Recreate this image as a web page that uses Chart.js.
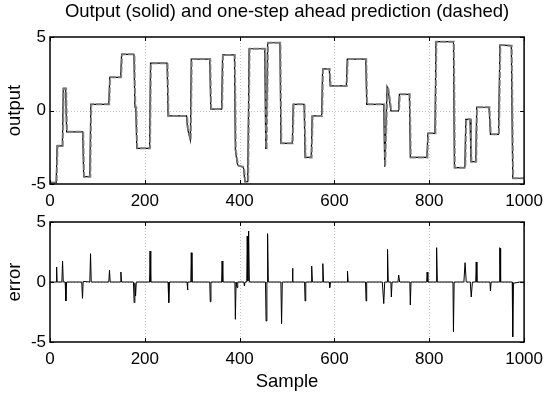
<!DOCTYPE html>
<html>
<head>
<meta charset="utf-8">
<script src="https://cdn.jsdelivr.net/npm/chart.js@4.4.0/dist/chart.umd.min.js"></script>
<style>
  html, body { margin: 0; padding: 0; background: #fff; }
  #wrap { position: relative; width: 550px; height: 394px; overflow: hidden; }
  canvas { position: absolute; left: 0; }
  #cOutput { top: 0; }
  #cError { top: 200px; }
</style>
</head>
<body>
<div id="wrap">
  <canvas id="cOutput" width="550" height="215"></canvas>
  <canvas id="cError" width="550" height="194"></canvas>
</div>
<script>
// Output signal corners (sample, value)
let outX = [0, 13, 15, 26, 28, 33, 35, 69, 71, 84, 86, 124, 126, 149, 151, 177, 179, 181, 183, 210,
  212, 247, 249, 288, 290, 296, 298, 337, 339, 362, 364, 389, 391, 395, 397, 408, 411, 417, 420, 453,
  455, 456, 459, 485, 487, 511, 513, 536, 538, 551, 553, 573, 575, 589, 591, 625, 627, 666, 668, 704,
  706, 711, 713, 719, 735, 737, 758, 760, 795, 797, 812, 814, 851, 853, 875, 877, 886, 888, 898, 900,
  926, 929, 946, 949, 973, 976, 1000];
let outY = [-4.9, -4.9, -2.4, -2.4, 1.5, 1.5, -1.45, -1.45, -4.5, -4.5, 0.42, 0.42, 2.26, 2.26, 3.82, 3.82, 0.22, 0.22, -2.57, -2.57,
  3.22, 3.22, -0.37, -0.37, -1.2, -2.0, 3.5, 3.5, 0.1, 0.1, 3.78, 3.78, -2.7, -3.6, -3.75, -3.85, -4.84, -4.84, 4.2, 4.2,
  -2.57, -2.57, 4.61, 4.61, -2.23, -2.23, 0.42, 0.42, -3.19, -3.19, -0.37, -0.37, 2.83, 2.83, 1.67, 1.67, 3.5, 3.5, 0.42, 0.42,
  -3.82, 1.62, 1.45, -0.03, -0.03, 1.1, 1.1, -3.19, -3.19, -1.55, -1.55, 4.68, 4.68, -3.89, -3.89, -0.6, -0.6, -3.48, -3.48, 0.22,
  0.22, -1.62, -1.62, 4.45, 4.41, -4.61, -4.61];

// One-step ahead prediction corners (sample, value)
let predX = [0, 14, 16, 27, 29, 34, 36, 70, 72, 85, 87, 125, 127, 150, 152, 178, 180, 182, 184, 211,
  213, 248, 250, 289, 291, 297, 299, 338, 340, 363, 365, 390, 392, 396, 398, 409, 412, 418, 421, 454,
  456, 457, 460, 486, 488, 512, 514, 537, 539, 552, 554, 574, 576, 590, 592, 626, 628, 667, 669, 705,
  707, 712, 714, 720, 736, 738, 759, 761, 796, 798, 813, 815, 852, 854, 876, 878, 887, 889, 899, 901,
  927, 930, 947, 950, 974, 977, 1000];
let predY = [-4.9, -4.9, -2.4, -2.4, 1.5, 1.5, -1.45, -1.45, -4.5, -4.5, 0.42, 0.42, 2.26, 2.26, 3.82, 3.82, 0.22, 0.22, -2.57, -2.57,
  3.22, 3.22, -0.37, -0.37, -1.2, -2.0, 3.5, 3.5, 0.1, 0.1, 3.78, 3.78, -2.7, -3.6, -3.75, -3.85, -4.84, -4.84, 4.2, 4.2,
  -2.57, -2.57, 4.61, 4.61, -2.23, -2.23, 0.42, 0.42, -3.19, -3.19, -0.37, -0.37, 2.83, 2.83, 1.67, 1.67, 3.5, 3.5, 0.42, 0.42,
  -3.82, 1.62, 1.45, -0.03, -0.03, 1.1, 1.1, -3.19, -3.19, -1.55, -1.55, 4.68, 4.68, -3.89, -3.89, -0.6, -0.6, -3.48, -3.48, 0.22,
  0.22, -1.62, -1.62, 4.45, 4.41, -4.61, -4.61];

// Prediction error (sample, value)
let errX = [0, 13, 14, 15, 25, 26.5, 28, 32, 33.5, 35, 67, 68.5, 70, 84, 85.5, 87, 124, 125.5, 127, 148,
  149.5, 151, 176, 177.5, 179, 180.5, 182, 210, 211, 212.5, 249, 250.5, 252, 289, 290, 291, 297, 298, 299.5, 337,
  338, 339.5, 362, 363, 364.5, 390, 391, 392.5, 394.5, 396, 409, 410, 411.5, 415, 416, 417.5, 419, 420.5, 454.5, 455.8, 457.5,
  458, 459, 460.5, 487, 488.5, 490, 510.5, 511.5, 512.5, 537, 538, 539.5, 551, 552, 553.5, 574.5, 575.5, 577, 589, 590,
  591.5, 626.5, 627.5, 629, 665.5, 666.7, 668, 701, 704, 706, 711, 712, 713.5, 719, 720, 721.5, 734, 735.5, 737.5, 759,
  760, 761.5, 794.5, 795.5, 797, 814.5, 815.5, 817, 850, 851, 852.5, 873, 875.5, 878, 886.5, 888.5, 891, 898, 899, 900.5,
  928, 929, 930.5, 947.5, 948.5, 949.5, 950.5, 975, 976, 977.5, 985, 990, 1000];
let errY = [0, 0, 1.25, 0, 0, 1.75, 0, 0, -1.58, 0, 0, -1.36, 0.05, 0, 2.36, 0, 0, 0.97, 0, 0,
  0.83, 0, 0, -1.72, -0.1, -1.17, 0, 0, 2.58, 0, 0, -1.72, 0, 0, -0.67, 0, 0, 2.44, 0, 0,
  -1.64, 0, 0, 1.75, 0, 0, -3.11, 0, -0.47, 0, 0, -0.33, 0, 0, 3.83, 0.1, 4.25, 0, 0, -3.25, 0,
  0, 4.03, 0, 0, -3.47, 0, 0, 1.14, 0, 0, -1.58, 0, 0, 1.33, 0, 0, 1.53, 0, 0, -0.47,
  0, 0, 0.92, 0, 0, -1.58, 0, 0, -1.8, 0, 0, 2.72, 0, 0, -1.25, 0, 0, 0.58, 0, 0,
  -1.92, 0, 0, 0.83, 0, 0, 2.86, 0, 0, -4.14, 0, 0, 1.61, 0, 0, -1.25, 0, 0, 1.67, 0,
  0, -0.75, 0, 0, 2.86, 2.8, 0, 0, -4.58, -0.1, -0.05, 0, 0];

let xTicks = [0, 200, 400, 600, 800, 1000];
let yTicks = [-5, 0, 5];

const FONT = "'Liberation Sans', Arial, sans-serif";
Chart.defaults.font.family = FONT;
Chart.defaults.color = '#000';

function toPoints(xs, ys) {
  return xs.map((x, i) => ({ x: x, y: ys[i] }));
}

/*
    MATLAB style axes: dotted inner grid, black box, inward ticks on all four sides
*/
const matlabAxes = {
  id: 'matlabAxes',
  beforeDatasetsDraw(chart) {
    let ctx = chart.ctx, a = chart.chartArea, xs = chart.scales.x, ys = chart.scales.y;
    ctx.save();
    ctx.strokeStyle = '#c2c2c2';
    ctx.lineWidth = 1;
    ctx.setLineDash([1, 2]);
    ctx.beginPath();
    xTicks.slice(1, -1).forEach(v => {
      let px = Math.round(xs.getPixelForValue(v)) + 0.5;
      ctx.moveTo(px, a.top);
      ctx.lineTo(px, a.bottom);
    });
    yTicks.slice(1, -1).forEach(v => {
      let py = Math.round(ys.getPixelForValue(v)) + 0.5;
      ctx.moveTo(a.left, py);
      ctx.lineTo(a.right, py);
    });
    ctx.stroke();
    ctx.restore();
  },
  afterDatasetsDraw(chart) {
    let ctx = chart.ctx, a = chart.chartArea, xs = chart.scales.x, ys = chart.scales.y;
    let tl = 4;
    ctx.save();
    ctx.strokeStyle = '#000';
    ctx.lineWidth = 1;
    ctx.beginPath();
    xTicks.forEach(v => {
      let px = Math.round(xs.getPixelForValue(v)) + 0.5;
      ctx.moveTo(px, a.bottom); ctx.lineTo(px, a.bottom - tl);
      ctx.moveTo(px, a.top); ctx.lineTo(px, a.top + tl);
    });
    yTicks.forEach(v => {
      let py = Math.round(ys.getPixelForValue(v)) + 0.5;
      ctx.moveTo(a.left, py); ctx.lineTo(a.left + tl, py);
      ctx.moveTo(a.right, py); ctx.lineTo(a.right - tl, py);
    });
    ctx.stroke();
    ctx.lineWidth = 1.5;
    ctx.strokeRect(a.left, a.top, a.right - a.left, a.bottom - a.top);
    ctx.restore();
  }
};

function makeOptions(cfg) {
  return {
    responsive: false,
    animation: false,
    devicePixelRatio: 1,
    layout: { padding: { left: 0, right: 21, top: cfg.padTop, bottom: 0 } },
    plugins: {
      legend: { display: false },
      tooltip: { enabled: false },
      title: cfg.title ? {
        display: true,
        fullSize: false,
        text: cfg.title,
        color: '#000',
        font: { family: FONT, size: 18.5, weight: 'normal' },
        padding: { top: 1, bottom: 13.8 }
      } : { display: false }
    },
    scales: {
      x: {
        type: 'linear',
        min: 0,
        max: 1000,
        afterBuildTicks: s => { s.ticks = xTicks.map(v => ({ value: v })); },
        afterFit: s => { s.height = cfg.xHeight; },
        grid: { display: false, drawTicks: false },
        border: { display: false },
        ticks: { font: { size: 17 }, padding: 7, maxRotation: 0, autoSkip: false, callback: v => String(v) },
        title: cfg.xTitle ? {
          display: true, text: cfg.xTitle, font: { size: 18.5 }, padding: { top: 0, bottom: 1 }
        } : { display: false }
      },
      y: {
        min: -5,
        max: 5,
        afterBuildTicks: s => { s.ticks = yTicks.map(v => ({ value: v })); },
        afterFit: s => { s.width = 50; },
        grid: { display: false, drawTicks: false },
        border: { display: false },
        ticks: { font: { size: 17 }, padding: 4, callback: v => String(v) },
        title: { display: true, text: cfg.yTitle, font: { size: 18.5 }, padding: { top: 4, bottom: 0 } }
      }
    }
  };
}

// dataset 0 is painted last, so the dashed prediction sits over the solid output
new Chart(document.getElementById('cOutput').getContext('2d'), {
  type: 'line',
  data: {
    datasets: [
      {
        label: 'prediction',
        data: toPoints(predX, predY),
        borderColor: 'rgba(125,125,125,0.9)',
        borderWidth: 2,
        borderDash: [6, 2],
        pointRadius: 0,
        tension: 0
      },
      {
        label: 'output',
        data: toPoints(outX, outY),
        borderColor: '#000',
        borderWidth: 1.2,
        pointRadius: 0,
        tension: 0
      }
    ]
  },
  options: makeOptions({ title: 'Output (solid) and one-step ahead prediction (dashed)', yTitle: 'output', xHeight: 31, padTop: 0 }),
  plugins: [matlabAxes]
});

new Chart(document.getElementById('cError').getContext('2d'), {
  type: 'line',
  data: {
    datasets: [{
      label: 'error',
      data: toPoints(errX, errY),
      borderColor: '#000',
      borderWidth: 1,
      pointRadius: 0,
      tension: 0
    }]
  },
  options: makeOptions({ yTitle: 'error', xTitle: 'Sample', xHeight: 52, padTop: 22 }),
  plugins: [matlabAxes]
});
</script>
</body>
</html>
